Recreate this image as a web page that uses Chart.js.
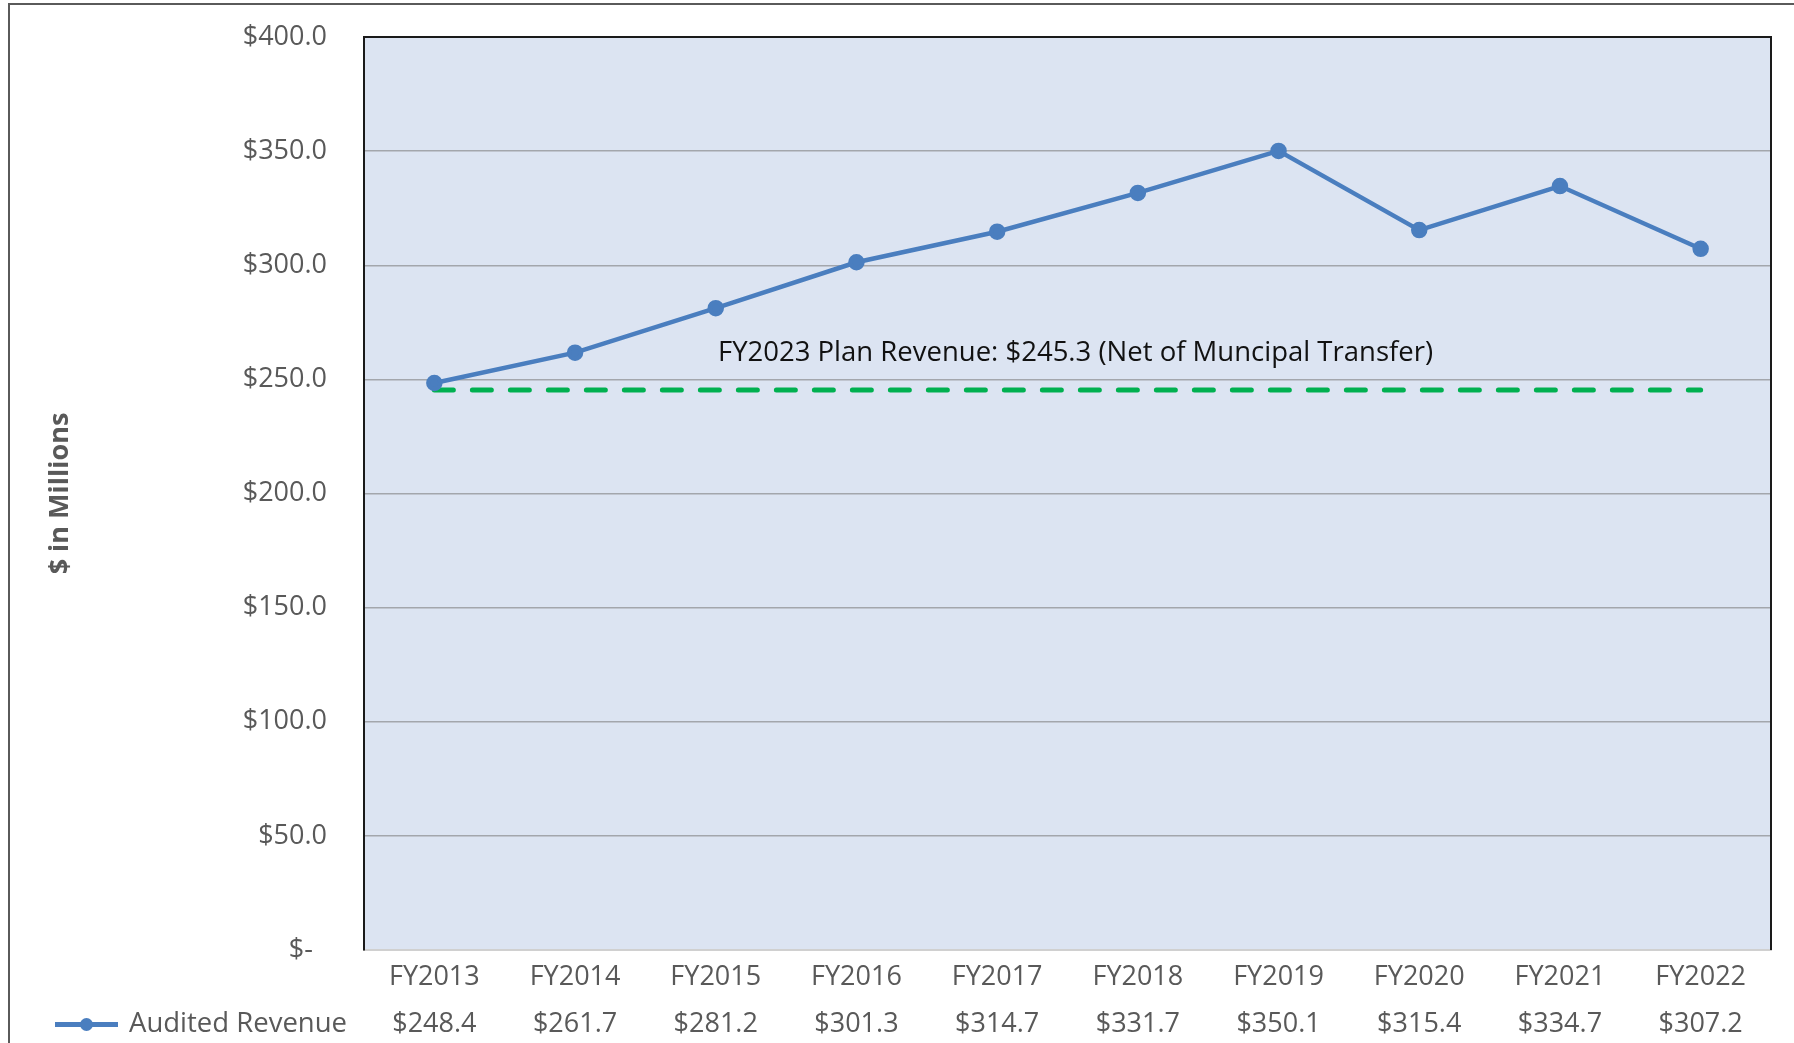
<!DOCTYPE html>
<html>
<head>
<meta charset="utf-8">
<script src="https://cdn.jsdelivr.net/npm/chart.js@4.4.1/dist/chart.umd.min.js"></script>
<style>
  html, body { margin: 0; padding: 0; background: #fff; }
  #wrap { position: relative; width: 1794px; height: 1043px; }
</style>
</head>
<body>
<div id="wrap"><canvas id="revenueChart" width="1794" height="1043"></canvas></div>
<script>
// ========== Data ==========
const fiscalYears = ['FY2013', 'FY2014', 'FY2015', 'FY2016', 'FY2017', 'FY2018', 'FY2019', 'FY2020', 'FY2021', 'FY2022'];
const auditedRevenue = [248.4, 261.7, 281.2, 301.3, 314.7, 331.7, 350.1, 315.4, 334.7, 307.2];
const planRevenue = 245.3;
const planLabel = 'FY2023 Plan Revenue: $245.3 (Net of Muncipal Transfer)';
const seriesLabel = 'Audited Revenue';

const FONT = "'Open Sans', 'Noto Sans', sans-serif";
const BLUE = '#4A7EBF';
const GREEN = '#00B050';
const GREY_TEXT = '#595959';
const LINE_H = 47;

const fmt = v => '$' + v.toFixed(1);
const tickLabels = fiscalYears.map((fy, i) => [fy, fmt(auditedRevenue[i])]);

// frame, plot border, annotation and data-table legend
const decorPlugin = {
  id: 'decor',
  beforeDraw(chart) {
    const { ctx, chartArea: a } = chart;
    ctx.save();
    ctx.fillStyle = '#DCE4F2';
    ctx.fillRect(a.left, a.top, a.right - a.left, a.bottom - a.top);
    ctx.strokeStyle = '#5a5a5a';
    ctx.lineWidth = 2;
    ctx.beginPath();
    ctx.moveTo(9, chart.height);
    ctx.lineTo(9, 4);
    ctx.lineTo(chart.width, 4);
    ctx.stroke();
    ctx.restore();
  },
  afterDraw(chart) {
    const { ctx, chartArea: a, scales: { x, y } } = chart;
    ctx.save();
    // top & right plot border
    ctx.strokeStyle = '#1a1a1a';
    ctx.lineWidth = 2;
    ctx.beginPath();
    ctx.moveTo(a.left, a.top);
    ctx.lineTo(a.right, a.top);
    ctx.lineTo(a.right, a.bottom);
    ctx.stroke();

    // annotation over the plan line
    ctx.font = '27.5px ' + FONT;
    ctx.fillStyle = '#111';
    ctx.textAlign = 'center';
    ctx.textBaseline = 'middle';
    ctx.fillText(planLabel, (a.left + a.right) / 2 + 8, y.getPixelForValue(planRevenue) - 37);

    // legend key in front of the data-table row
    const rowY = x.top + 4 + LINE_H * 1.5;
    ctx.strokeStyle = BLUE;
    ctx.lineWidth = 5;
    ctx.beginPath();
    ctx.moveTo(55, rowY);
    ctx.lineTo(118, rowY);
    ctx.stroke();
    ctx.fillStyle = BLUE;
    ctx.beginPath();
    ctx.arc(86.5, rowY, 6.5, 0, Math.PI * 2);
    ctx.fill();
    ctx.fillStyle = GREY_TEXT;
    ctx.font = '27.5px ' + FONT;
    ctx.textAlign = 'left';
    ctx.fillText(seriesLabel, 129, rowY);
    ctx.restore();
  }
};

new Chart(document.getElementById('revenueChart'), {
  type: 'line',
  data: {
    labels: tickLabels,
    datasets: [
      { label: seriesLabel, data: auditedRevenue, borderColor: BLUE, backgroundColor: BLUE, borderWidth: 4.5, pointRadius: 6, pointHoverRadius: 6, tension: 0, order: 1 },
      { label: 'Plan', data: fiscalYears.map(() => planRevenue), borderColor: GREEN, borderWidth: 5, borderDash: [19, 19], borderCapStyle: 'round', pointRadius: 0, tension: 0, order: 2 }
    ]
  },
  options: {
    responsive: false, animation: false,
    layout: { padding: { left: 0, right: 23, top: 37, bottom: 0 } },
    plugins: { legend: { display: false }, tooltip: { enabled: false } },
    scales: {
      x: {
        offset: true,
        grid: { display: false, drawTicks: false, offset: true },
        border: { display: true, color: '#d0d0d0', width: 2 },
        ticks: { color: GREY_TEXT, padding: 4, maxRotation: 0, autoSkip: false, font: { size: 27, family: FONT, lineHeight: LINE_H / 27 } },
        afterFit: s => { s.height = 93; s.paddingLeft = 0; s.paddingRight = 0; }
      },
      y: {
        min: 0, max: 400,
        grid: { color: '#A3A6AC', lineWidth: 1.5, drawTicks: false },
        border: { display: true, color: '#1a1a1a', width: 2 },
        ticks: { stepSize: 50, color: GREY_TEXT, padding: 37, font: { size: 27, family: FONT }, callback: v => v === 0 ? '$-  ' : fmt(v) },
        title: { display: true, text: '$ in Millions', color: GREY_TEXT, font: { size: 27, family: FONT, weight: 'bold' }, padding: { top: 44, bottom: 0 } },
        afterFit: s => { s.width = 364; s.paddingTop = 0; s.paddingBottom = 0; }
      }
    }
  },
  plugins: [decorPlugin]
});
</script>
</body>
</html>
